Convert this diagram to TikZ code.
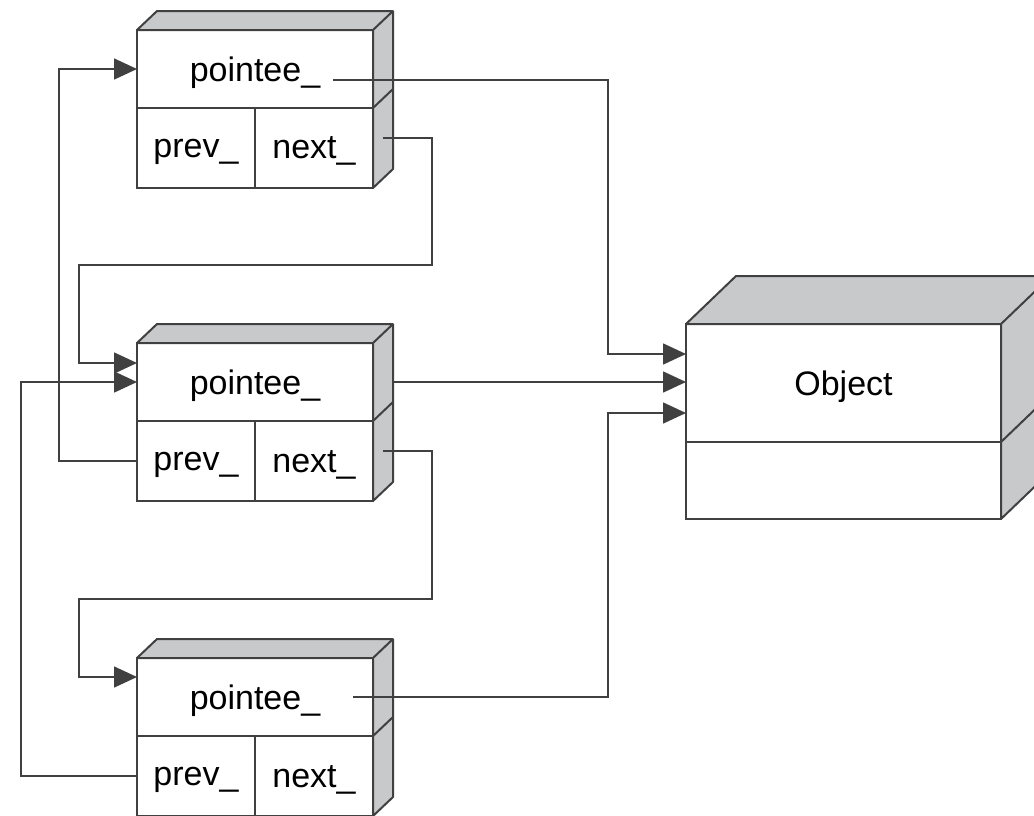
\documentclass[tikz,border=0pt]{standalone}
\usepackage{fontspec}
\setmainfont{Liberation Sans}
\usetikzlibrary{arrows.meta}
\definecolor{sidegray}{RGB}{200,201,203}
\definecolor{edgegray}{RGB}{64,64,64}

\begin{document}
\begin{tikzpicture}[x=1pt, y=-1pt,
    cell/.style={draw=edgegray, line width=2pt, inner sep=0pt, outer sep=0pt, text depth=0pt, font=\fontsize{34}{40}\selectfont},
    side/.style={fill=sidegray, draw=edgegray, line width=2pt, line join=round},
    link/.style={edgegray, line width=1.6pt, -{Triangle[length=23pt, width=21pt]}}]
    \useasboundingbox (0,0) rectangle (1034,815);
    \clip (0,0) rectangle (1034,815);
    % the three list nodes
    \foreach \b/\y in {A/30, B/343, C/658}{
      \node[cell, minimum width=236pt, minimum height=78pt, anchor=north west] (ptr\b) at (137,\y) {pointee\_};
      \node[cell, minimum width=118pt, minimum height=80pt, anchor=north west] (prev\b) at (ptr\b.south west) {prev\_};
      \node[cell, minimum width=118pt, minimum height=80pt, anchor=north east] (next\b) at (ptr\b.south east) {next\_};
      \draw[side] (ptr\b.north west) -- ++(20,-19) -- ++(236,0) -- ++(0,158) -- (next\b.south east) -- (ptr\b.north east) -- cycle;
      \draw[edgegray, line width=2pt] (ptr\b.north east) -- ++(20,-19);
      \draw[edgegray, line width=2pt] (ptr\b.south east) -- ++(20,-19);
    }
    % the shared object
    \node[cell, minimum width=315pt, minimum height=118pt, anchor=north west] (obj) at (686,324) {Object};
    \node[cell, minimum width=315pt, minimum height=77pt, anchor=north west] (objbase) at (obj.south west) {};
    \draw[side] (obj.north west) -- ++(50,-48) -- ++(315,0) -- ++(0,195) -- (objbase.south east) -- (obj.north east) -- cycle;
    \draw[edgegray, line width=2pt] (obj.north east) -- ++(50,-48);
    \draw[edgegray, line width=2pt] (obj.south east) -- ++(50,-48);
    % pointee_ links
    \draw[link] ([xshift=78pt, yshift=-11pt]ptrA.center) -| ([xshift=-78pt, yshift=29pt]obj.west) -- ([yshift=29pt]obj.west);
    \draw[link] ([xshift=20pt]ptrB.east) -- (ptrB.east -| obj.west);
    \draw[link] ([xshift=98pt]ptrC.center) -| ([xshift=-78pt, yshift=-30pt]obj.west) -- ([yshift=-30pt]obj.west);
    % next_ links
    \draw[link] ([xshift=10pt, yshift=10pt]nextA.east) -| (432,265) -| ([xshift=-58pt, yshift=19pt]ptrB.west) -- ([yshift=19pt]ptrB.west);
    \draw[link] ([xshift=10pt, yshift=10pt]nextB.east) -| (432,599) -| ([xshift=-58pt, yshift=20pt]ptrC.west) -- ([yshift=20pt]ptrC.west);
    % prev_ links
    \draw[link] (prevB.west) -| ([xshift=-78pt]ptrA.west) -- (ptrA.west);
    \draw[link] (prevC.west) -| ([xshift=-116pt]ptrB.west) -- (ptrB.west);
  \end{tikzpicture}
\end{document}
